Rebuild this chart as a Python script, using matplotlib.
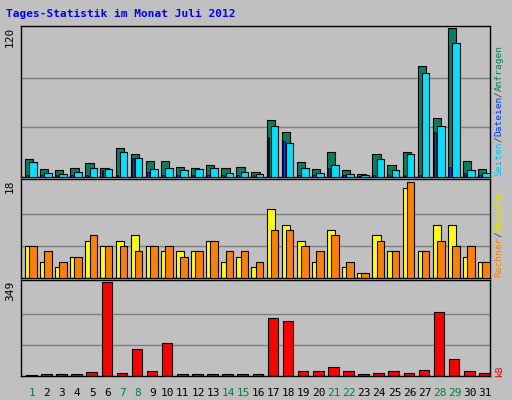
import matplotlib
matplotlib.use("Agg")
import matplotlib.pyplot as plt
import numpy as np

days = list(range(1, 32))
hits = [14.7,6.7,5.9,7.5,11.5,7.5,23.5,18.7,13,13,8.3,7.5,9.9,7.5,8.3,4.3,45.9,36.3,12.3,6.7,20.3,5.9,2.7,18.7,9.9,20.3,89,47.5,120,13,6.7]
pages = [12.3,3.5,2.7,4.3,7.5,6.7,20.3,15.5,6.7,7.5,5.9,6.7,7.5,3.5,4.3,2.7,41,27.5,7.5,3.5,9.9,2.7,1.9,14.7,5.9,18.7,84,41,107.5,5.9,3.5]
files = [1.5,1.5,1.5,1.5,2,5.9,1.5,15.5,4.3,1.5,1.5,1.5,1.5,1.5,1.5,1.5,32,29,1.5,1.5,7.5,1.5,1,1.5,1.5,1.5,1.5,36,8.3,3.5,1.5]
visits = [6,3,2,4,7,6,7,8,6,5,5,5,7,3,4,2,13,10,7,3,9,2,1,8,5,17,5,10,10,4,3]
sites = [6,5,3,4,8,6,6,5,6,6,4,5,7,5,5,3,9,9,6,5,8,3,1,7,5,18,5,7,6,6,3]
kbytes = [5,9,9,9,16.5,349,12.7,100,20,123,9,9,9,9,9,9,218,204,20,20,32,20,9,12.7,20,12.7,24,237,63,20,12.7]
weekend = [1,7,8,14,15,21,22,28,29]

W, H = 512, 400
fig = plt.figure(figsize=(W/100, H/100), dpi=100, facecolor="#c0c0c0")

def px_axes(l, t, w, h):
    ax = fig.add_axes([l/W, 1-(t+h)/H, w/W, h/H])
    ax.set_facecolor("#c0c0c0")
    ax.set_xticks([]); ax.set_yticks([])
    for s in ax.spines.values():
        s.set_color("black"); s.set_linewidth(1)
    ax.set_xlim(0, 31.05)
    return ax

x = np.arange(31)
ec = dict(edgecolor="black", linewidth=0.8)

ax1 = px_axes(21, 26, 469, 151)
ax1.set_ylim(0, 121.5)
for g in (40, 80):
    ax1.axhline(g, color="#808080", lw=1, zorder=0)
ax1.bar(x + 0.26, hits, width=0.55, align="edge", color="#008060", **ec, zorder=2)
ax1.bar(x + 0.33, files, width=0.12, align="edge", color="#0040ff", edgecolor="black", linewidth=0.5, zorder=3)
ax1.bar(x + 0.54, pages, width=0.5, align="edge", color="#00e0ff", **ec, zorder=4)

ax2 = px_axes(21, 179, 469, 99)
ax2.set_ylim(0, 18.6)
for g in (6, 12):
    ax2.axhline(g, color="#808080", lw=1, zorder=0)
ax2.bar(x + 0.26, visits, width=0.55, align="edge", color="#ffff00", **ec, zorder=2)
ax2.bar(x + 0.54, sites, width=0.5, align="edge", color="#ff8000", **ec, zorder=3)

ax3 = px_axes(21, 280, 469, 96)
ax3.set_ylim(0, 358)
for g in (116, 233):
    ax3.axhline(g, color="#808080", lw=1, zorder=0)
ax3.bar(x + 0.33, kbytes, width=0.7, align="edge", color="#ff0000", **ec, zorder=2)
for i, d in enumerate(days):
    ax3.text(i + 0.72, -0.13, str(d), transform=ax3.get_xaxis_transform(), ha="center", va="top",
             fontsize=8, family="DejaVu Sans Mono", color="#008040" if d in weekend else "black")

fig.text(6/W, 1-14/H, "Tages-Statistik im Monat Juli 2012", color="#0000ff", fontsize=8,
         family="DejaVu Sans Mono", weight="bold", va="center")
for lbl, y in (("120", 27), ("18", 180), ("349", 281)):
    fig.text(10/W, 1-y/H, lbl, rotation=90, ha="center", va="top", fontsize=8, family="DejaVu Sans Mono")

def vlegend(parts, ybottom, fs=6.8):
    y = ybottom
    cw = 0.6 * fs * 100 / 72
    for txt, col in parts:
        fig.text(499/W, 1-y/H, txt, rotation=90, ha="center", va="bottom", fontsize=fs,
                 family="DejaVu Sans Mono", color=col)
        y -= cw * len(txt)

sep = "#404040"
vlegend([("Seiten", "#00c0ff"), ("/", sep), ("Dateien", "#0040ff"), ("/", sep), ("Anfragen", "#008060")], 176)
vlegend([("Rechner", "#ff8000"), ("/", sep), ("Besuche", "#e0e000")], 277)
vlegend([("kB", "#ff0000")], 376)

fig.savefig("out.png", dpi=100, facecolor=fig.get_facecolor())
